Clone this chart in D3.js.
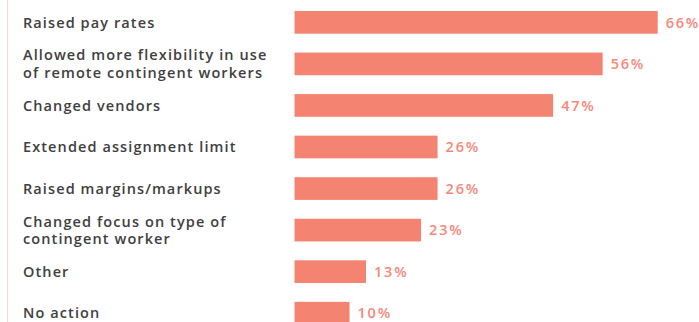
<!DOCTYPE html>
<html>
<head>
<meta charset="utf-8">
<script src="https://cdn.jsdelivr.net/npm/d3@7"></script>
<style>
  body { margin: 0; background: #fff; }
</style>
</head>
<body>
<div id="chart"></div>
<script>
// answers, top to bottom (each label split into its display lines)
var categories = [
    ['Raised pay rates'],
    ['Allowed more flexibility in use', 'of remote contingent workers'],
    ['Changed vendors'],
    ['Extended assignment limit'],
    ['Raised margins/markups'],
    ['Changed focus on type of', 'contingent worker'],
    ['Other'],
    ['No action']
];
var values = [66, 56, 47, 26, 26, 23, 13, 10];

var width = 699, height = 322;
var barLeft = 294.5;

var svg = d3.select('#chart')
    .append('svg')
    .attr('width', width)
    .attr('height', height);

// thin pink rule at the left edge
svg.append('line')
    .attr('x1', 7.5).attr('x2', 7.5)
    .attr('y1', 0).attr('y2', height)
    .style('stroke', '#f8d9d4')
    .style('stroke-width', 1);

var keys = categories.map(function(d, i) { return i; });

var x = d3.scaleLinear()
    .domain([0, 66])
    .range([barLeft, 657.7]);

var y = d3.scaleBand()
    .domain(keys)
    .range([11, 11 + 41.55 * (8 - 0.454)])
    .paddingInner(0.454)
    .paddingOuter(0);

var row = svg.selectAll('.row').data(keys).enter().append('g')
    .attr('class', 'row');

row.append('rect')
    .attr('x', x(0))
    .attr('y', function(i) { return y(i); })
    .attr('width', function(i) { return x(values[i]) - x(0); })
    .attr('height', y.bandwidth())
    .style('fill', '#f48372');

row.append('text')
    .attr('x', function(i) { return x(values[i]) + 8; })
    .attr('y', function(i) { return y(i) + y.bandwidth() / 2; })
    .attr('dy', '0.36em')
    .style('font', '600 14.5px "Open Sans", sans-serif')
    .style('letter-spacing', '1.8px')
    .style('fill', '#f4887a')
    .text(function(i) { return values[i] + '%'; });

var label = row.append('text')
    .style('font', '600 14.5px "Open Sans", sans-serif')
    .style('letter-spacing', '1.1px')
    .style('fill', '#404040')
    .attr('y', function(i) { return y(i) + y.bandwidth() / 2; });

label.selectAll('tspan')
    .data(function(i) {
        var lines = categories[i];
        return lines.map(function(t, k) { return {t: t, k: k, n: lines.length}; });
    })
    .enter().append('tspan')
    .attr('x', 23)
    .attr('dy', function(d) {
        if (d.k === 0) return (0.36 - (d.n - 1) * 1.2 / 2) + 'em';
        return '1.2em';
    })
    .text(function(d) { return d.t; });
</script>
</body>
</html>
